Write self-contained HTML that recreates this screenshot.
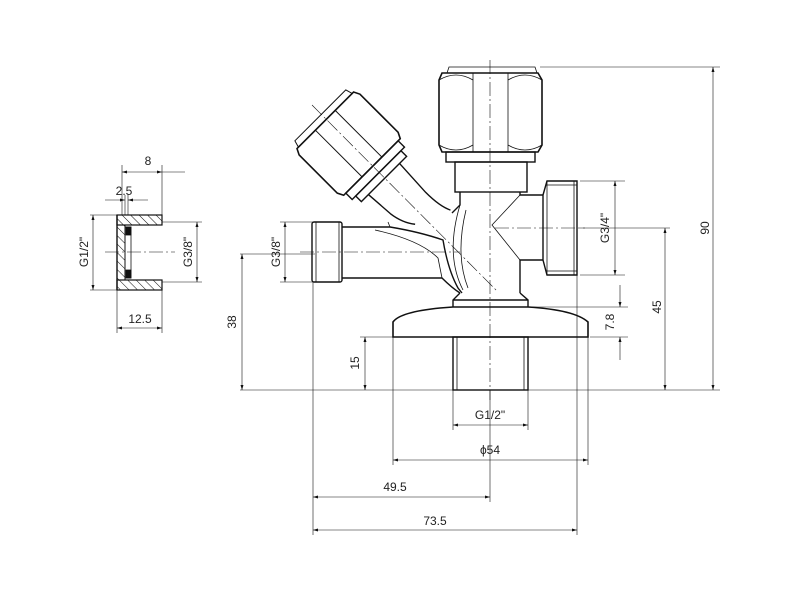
<!DOCTYPE html>
<html><head><meta charset="utf-8"><style>html,body{margin:0;padding:0;background:#fff}svg{display:block}text{font-family:"Liberation Sans",sans-serif;font-size:12px;fill:#222}</style></head><body>
<svg width="800" height="600" viewBox="0 0 800 600" xmlns="http://www.w3.org/2000/svg">
<defs>
<marker id="a" viewBox="0 0 10 6" refX="10" refY="3" markerWidth="9" markerHeight="5" orient="auto-start-reverse"><path d="M0,0 L10,3 L0,6 Z" fill="#111"/></marker>
<pattern id="h" width="6" height="6" patternUnits="userSpaceOnUse" patternTransform="rotate(-45)"><line x1="0" y1="0" x2="0" y2="6" stroke="#111" stroke-width="1"/></pattern>
</defs>
<g fill="none" stroke="#111" stroke-width="0.8">
<!-- centre lines -->
<g stroke-dasharray="14,3,2,3" stroke-width="0.6">
<line x1="490" y1="60" x2="490" y2="400"/>
<line x1="300" y1="252" x2="460" y2="252"/>
<line x1="495" y1="228" x2="585" y2="228"/>
<line x1="312" y1="105" x2="498" y2="292"/>
<line x1="105" y1="252" x2="175" y2="252"/>
</g>
<!-- top cap -->
<path d="M447,73 L449,67 L535,67 L537,73 Z"/>
<path d="M442,73 L538,73 L542,80 L542,145 L538,152 L442,152 L439,145 L439,80 Z" stroke-width="1.6"/>
<line x1="473" y1="73" x2="473" y2="152"/><line x1="508" y1="73" x2="508" y2="152"/>
<path d="M439,80 Q456,70 473,80 M508,80 Q525,70 542,80 M439,145 Q456,155 473,145 M508,145 Q525,155 542,145"/>
<rect x="446" y="152" width="89" height="10" stroke-width="1.4"/>
<rect x="455" y="162" width="72" height="30" stroke-width="1.4"/>
<!-- body -->
<path d="M460,192 L460,205 Q455,210 452,213 M520,192 L520,195 L543,195 M543,260 L520,260 L520,293" stroke-width="1.4"/>
<path d="M520,195 L492,225 L520,260"/>
<path d="M460,205 Q445,255 463,290 M466,210 Q455,255 468,288"/>
<path d="M460,293 L453,300 L453,307 M520,293 L528,300 L528,307 M453,300 L528,300" stroke-width="1.4"/>
<!-- right branch nut -->
<path d="M543,195 L547,181 L577,181 L577,275 L547,275 L543,260 Z" stroke-width="1.4"/>
<line x1="547" y1="181" x2="547" y2="275"/><line x1="574" y1="181" x2="574" y2="275"/>
<path d="M547,185 L577,185 M547,271 L577,271"/>
<!-- left branch -->
<path d="M342,227 L390,227 Q420,232 443,240 Q448,270 458,288 L462,293" stroke-width="1.4"/>
<path d="M342,278 L442,278 Q452,288 460,293" stroke-width="1.4"/>
<path d="M390,227 L388,222 M375,230 Q420,240 438,258 L442,278"/>
<rect x="312" y="222" width="30" height="60" rx="2" stroke-width="1.4"/>
<line x1="316" y1="222" x2="316" y2="282"/><line x1="339" y1="222" x2="339" y2="282"/>
<!-- base plate -->
<path d="M393,337 L393,322 Q400,312 440,308 L453,307 L528,307 Q575,310 588,322 L588,337 Z" stroke-width="1.6"/>
<rect x="453" y="337" width="75" height="53" stroke-width="1.4"/>
<line x1="457" y1="337" x2="457" y2="390"/><line x1="524" y1="337" x2="524" y2="390"/>
<!-- diagonal valve -->
<g transform="translate(355,150) rotate(-45)" stroke-width="1.4">
<path d="M-38,-42 L-36,-49 L36,-49 L38,-42 Z" stroke-width="1"/>
<path d="M-40,-42 L40,-42 L43,-36 L43,18 L40,24 L-40,24 L-43,18 L-43,-36 Z" stroke-width="1.6"/>
<line x1="-14" y1="-42" x2="-14" y2="24" stroke-width="1"/><line x1="14" y1="-42" x2="14" y2="24" stroke-width="1"/>
<rect x="-37" y="24" width="74" height="9"/>
<rect x="-32" y="33" width="64" height="8"/>
<path d="M-22,41 L-20,70 Q-18,85 -10,95 M22,41 L20,80 Q20,100 25,110"/>
</g>
<!-- dimension lines -->
<g stroke-width="0.6">
<line x1="540" y1="67" x2="720" y2="67"/>
<line x1="240" y1="390" x2="720" y2="390"/>
<line x1="713" y1="67" x2="713" y2="390" marker-start="url(#a)" marker-end="url(#a)"/>
<line x1="580" y1="228" x2="670" y2="228"/>
<line x1="665" y1="228" x2="665" y2="390" marker-start="url(#a)" marker-end="url(#a)"/>
<line x1="580" y1="181" x2="625" y2="181"/><line x1="580" y1="275" x2="625" y2="275"/>
<line x1="615" y1="181" x2="615" y2="275" marker-start="url(#a)" marker-end="url(#a)"/>
<line x1="530" y1="307" x2="628" y2="307"/><line x1="590" y1="337" x2="628" y2="337"/>
<line x1="620" y1="285" x2="620" y2="307" marker-end="url(#a)"/>
<line x1="620" y1="360" x2="620" y2="337" marker-end="url(#a)"/>
<line x1="240" y1="254" x2="315" y2="254"/>
<line x1="242" y1="254" x2="242" y2="390" marker-start="url(#a)" marker-end="url(#a)"/>
<line x1="280" y1="222" x2="315" y2="222"/><line x1="280" y1="282" x2="315" y2="282"/>
<line x1="285" y1="222" x2="285" y2="282" marker-start="url(#a)" marker-end="url(#a)"/>
<line x1="360" y1="337" x2="453" y2="337"/>
<line x1="365" y1="337" x2="365" y2="390" marker-start="url(#a)" marker-end="url(#a)"/>
<line x1="453" y1="390" x2="453" y2="430"/><line x1="528" y1="390" x2="528" y2="430"/>
<line x1="453" y1="425" x2="528" y2="425" marker-start="url(#a)" marker-end="url(#a)"/>
<line x1="393" y1="337" x2="393" y2="465"/><line x1="588" y1="337" x2="588" y2="465"/>
<line x1="393" y1="460" x2="588" y2="460" marker-start="url(#a)" marker-end="url(#a)"/>
<line x1="313" y1="282" x2="313" y2="535"/><line x1="490" y1="390" x2="490" y2="502"/><line x1="577" y1="275" x2="577" y2="535"/>
<line x1="313" y1="497" x2="490" y2="497" marker-start="url(#a)" marker-end="url(#a)"/>
<line x1="313" y1="530" x2="577" y2="530" marker-start="url(#a)" marker-end="url(#a)"/>
</g>
<!-- small fitting -->
<rect x="117" y="215" width="45" height="10" fill="url(#h)" stroke-width="1.2"/>
<rect x="117" y="280" width="45" height="10" fill="url(#h)" stroke-width="1.2"/>
<rect x="117" y="225" width="8" height="55" fill="url(#h)" stroke-width="1"/>
<rect x="125" y="227" width="6" height="51"/>
<rect x="126" y="227" width="5" height="8" fill="#111"/><rect x="126" y="270" width="5" height="8" fill="#111"/>
<line x1="117" y1="215" x2="117" y2="290" stroke-width="1.4"/>
<g stroke-width="0.6">
<line x1="90" y1="215" x2="117" y2="215"/><line x1="90" y1="290" x2="117" y2="290"/>
<line x1="93" y1="215" x2="93" y2="290" marker-start="url(#a)" marker-end="url(#a)"/>
<line x1="162" y1="222" x2="202" y2="222"/><line x1="162" y1="282" x2="202" y2="282"/>
<line x1="197" y1="222" x2="197" y2="282" marker-start="url(#a)" marker-end="url(#a)"/>
<line x1="122" y1="165" x2="122" y2="215"/><line x1="162" y1="165" x2="162" y2="215"/>
<line x1="122" y1="172" x2="162" y2="172" marker-start="url(#a)" marker-end="url(#a)"/>
<line x1="162" y1="172" x2="185" y2="172"/>
<line x1="125" y1="195" x2="125" y2="215"/><line x1="128" y1="195" x2="128" y2="215"/>
<line x1="105" y1="200" x2="125" y2="200" marker-end="url(#a)"/>
<line x1="148" y1="200" x2="128" y2="200" marker-end="url(#a)"/>
<line x1="117" y1="290" x2="117" y2="333"/><line x1="162" y1="290" x2="162" y2="333"/>
<line x1="117" y1="328" x2="162" y2="328" marker-start="url(#a)" marker-end="url(#a)"/>
</g>
</g>
<!-- labels -->
<text x="148" y="165" text-anchor="middle">8</text>
<text x="124" y="195" text-anchor="middle">2.5</text>
<text x="140" y="323" text-anchor="middle">12.5</text>
<text transform="translate(88,252) rotate(-90)" text-anchor="middle">G1/2"</text>
<text transform="translate(192,252) rotate(-90)" text-anchor="middle">G3/8"</text>
<text transform="translate(280,252) rotate(-90)" text-anchor="middle">G3/8"</text>
<text transform="translate(236,322) rotate(-90)" text-anchor="middle">38</text>
<text transform="translate(359,363) rotate(-90)" text-anchor="middle">15</text>
<text transform="translate(609,228) rotate(-90)" text-anchor="middle">G3/4"</text>
<text transform="translate(614,322) rotate(-90)" text-anchor="middle">7.8</text>
<text transform="translate(661,307) rotate(-90)" text-anchor="middle">45</text>
<text transform="translate(709,228) rotate(-90)" text-anchor="middle">90</text>
<text x="490" y="419" text-anchor="middle">G1/2"</text>
<text x="490" y="454" text-anchor="middle">ϕ54</text>
<text x="395" y="491" text-anchor="middle">49.5</text>
<text x="435" y="525" text-anchor="middle">73.5</text>
</svg>
</body></html>
